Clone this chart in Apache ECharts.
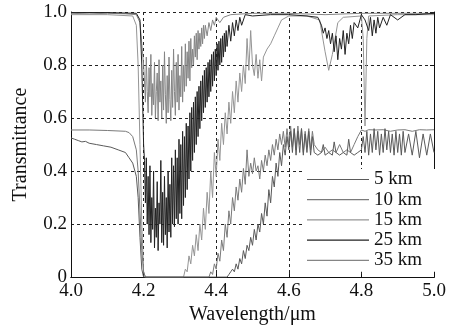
<!DOCTYPE html>
<html><head><meta charset="utf-8">
<script src="https://cdn.jsdelivr.net/npm/echarts@6/dist/echarts.min.js"></script>
<style>html,body{margin:0;padding:0;background:#fff}#c{width:453px;height:330px}</style>
</head><body><div id="c"></div>
<script>
const seriesNames = ['5 km','10 km','15 km','25 km','35 km'];
const xTicks = [4.0,4.2,4.4,4.6,4.8,5.0];
const yTicks = [0,0.2,0.4,0.6,0.8,1.0];

const km5 = [[4.0,0.525],[4.005,0.53],[4.01,0.52],[4.02,0.515],[4.03,0.51],[4.04,0.512],[4.05,0.505],[4.07,0.5],[4.09,0.495],[4.11,0.49],[4.13,0.48],[4.15,0.47],[4.16,0.45],[4.17,0.43],[4.18,0.38],[4.185,0.3],[4.19,0.15],[4.195,0.03],[4.2,0],[4.43,0],
[4.435,0.01],[4.44,0.02],[4.445,0.03],[4.45,0.02],[4.455,0.05],[4.46,0.03],[4.465,0.07],[4.47,0.05],[4.475,0.1],[4.48,0.07],[4.485,0.12],[4.49,0.1],[4.495,0.15],[4.50,0.12],[4.505,0.18],[4.51,0.14],[4.515,0.2],[4.52,0.17],[4.525,0.24],[4.53,0.2],[4.535,0.28],[4.54,0.23],[4.545,0.33],[4.55,0.28],[4.555,0.38],[4.56,0.34],[4.565,0.43],[4.57,0.38],[4.575,0.47],[4.58,0.42],[4.585,0.5],[4.59,0.46],[4.595,0.53],[4.60,0.48],[4.605,0.55],[4.61,0.47],[4.615,0.56],[4.62,0.46],[4.625,0.55],[4.63,0.47],[4.635,0.56],[4.64,0.46],[4.645,0.54],[4.65,0.47],[4.655,0.55],[4.66,0.46],[4.665,0.53],[4.67,0.47],[4.68,0.46],[4.69,0.47],[4.695,0.5],[4.70,0.46],[4.71,0.47],[4.72,0.46],[4.725,0.51],[4.73,0.47],[4.74,0.46],[4.75,0.47],[4.76,0.46],[4.765,0.52],[4.77,0.47],[4.78,0.46],[4.79,0.47],[4.80,0.48],[4.805,0.53],[4.81,0.47],[4.815,0.55],[4.82,0.46],[4.825,0.54],[4.83,0.47],[4.835,0.56],[4.84,0.48],[4.845,0.55],[4.85,0.46],[4.855,0.54],[4.86,0.47],[4.865,0.56],[4.87,0.48],[4.875,0.55],[4.88,0.47],[4.885,0.54],[4.89,0.46],[4.895,0.55],[4.90,0.47],[4.905,0.54],[4.91,0.46],[4.915,0.55],[4.92,0.47],[4.93,0.54],[4.94,0.46],[4.95,0.55],[4.96,0.45],[4.97,0.54],[4.98,0.46],[4.99,0.54],[5.0,0.47]];

const km10 = [[4.0,0.555],[4.05,0.555],[4.1,0.553],[4.15,0.55],[4.16,0.545],[4.17,0.53],[4.18,0.48],[4.185,0.4],[4.19,0.25],[4.195,0.1],[4.2,0.02],[4.205,0],[4.38,0],
[4.385,0.02],[4.39,0.01],[4.395,0.05],[4.40,0.03],[4.405,0.09],[4.41,0.06],[4.415,0.14],[4.42,0.1],[4.425,0.2],[4.43,0.15],[4.435,0.25],[4.44,0.2],[4.445,0.3],[4.45,0.25],[4.455,0.34],[4.46,0.29],[4.465,0.37],[4.47,0.32],[4.475,0.41],[4.48,0.35],[4.485,0.48],[4.49,0.38],[4.495,0.43],[4.50,0.39],[4.505,0.45],[4.51,0.4],[4.515,0.42],[4.52,0.37],[4.525,0.44],[4.53,0.4],[4.535,0.46],[4.54,0.42],[4.545,0.48],[4.55,0.44],[4.555,0.5],[4.56,0.46],[4.565,0.52],[4.57,0.48],[4.575,0.54],[4.58,0.5],[4.585,0.55],[4.59,0.49],[4.595,0.56],[4.60,0.5],[4.605,0.57],[4.61,0.49],[4.615,0.56],[4.62,0.48],[4.625,0.57],[4.63,0.5],[4.635,0.56],[4.64,0.47],[4.645,0.55],[4.65,0.49],[4.655,0.56],[4.66,0.48],[4.665,0.55],[4.67,0.5],[4.68,0.48],[4.69,0.47],[4.70,0.49],[4.71,0.47],[4.72,0.48],[4.73,0.47],[4.74,0.5],[4.75,0.47],[4.76,0.48],[4.77,0.47],[4.78,0.5],[4.79,0.53],[4.80,0.555],[4.81,0.55],[4.82,0.556],[4.84,0.555],[4.86,0.556],[4.88,0.55],[4.9,0.555],[4.92,0.556],[4.94,0.55],[4.96,0.556],[4.98,0.555],[5.0,0.556]];

const km15 = [[4.0,0.99],[4.1,0.99],[4.17,0.985],[4.18,0.95],[4.185,0.8],[4.19,0.5],[4.195,0.2],[4.2,0.02],[4.205,0],[4.31,0],
[4.315,0.03],[4.32,0.02],[4.325,0.08],[4.33,0.05],[4.335,0.12],[4.34,0.08],[4.345,0.16],[4.35,0.1],[4.355,0.2],[4.36,0.14],[4.365,0.26],[4.37,0.18],[4.375,0.32],[4.38,0.24],[4.385,0.4],[4.39,0.3],[4.395,0.47],[4.40,0.38],[4.405,0.52],[4.41,0.44],[4.415,0.58],[4.42,0.5],[4.425,0.62],[4.43,0.54],[4.435,0.66],[4.44,0.58],[4.445,0.7],[4.45,0.62],[4.455,0.74],[4.46,0.66],[4.465,0.77],[4.47,0.7],[4.475,0.8],[4.48,0.73],[4.485,0.9],[4.49,0.78],[4.495,0.93],[4.50,0.8],[4.505,0.76],[4.51,0.84],[4.515,0.75],[4.52,0.82],[4.525,0.74],[4.53,0.83],[4.54,0.86],[4.55,0.88],[4.56,0.91],[4.57,0.94],[4.58,0.97],[4.6,0.985],[4.65,0.985],[4.685,0.97],[4.70,0.85],[4.71,0.78],[4.72,0.84],[4.735,0.96],[4.75,0.98],[4.8,0.985],[4.805,0.9],[4.81,0.57],[4.815,0.9],[4.82,0.985],[4.9,0.99],[5.0,0.99]];

const km25 = [[4.0,0.998],[4.1,0.998],[4.18,0.995],[4.19,0.97],[4.195,0.8],[4.2,0.5],
[4.2025,0.44],[4.205,0.28],[4.2075,0.45],[4.21,0.2],[4.2125,0.38],[4.215,0.16],[4.2175,0.42],[4.22,0.13],[4.2225,0.3],[4.225,0.18],[4.2275,0.4],[4.23,0.11],[4.2325,0.26],[4.235,0.15],[4.2375,0.36],[4.24,0.1],[4.2425,0.28],[4.245,0.2],[4.2475,0.44],[4.25,0.13],[4.2525,0.32],[4.255,0.12],[4.2575,0.38],[4.26,0.16],[4.2625,0.3],[4.265,0.11],[4.2675,0.4],[4.27,0.17],[4.2725,0.35],[4.275,0.15],[4.2775,0.45],
[4.28,0.2],[4.2825,0.42],[4.285,0.19],[4.2875,0.48],[4.29,0.22],[4.2925,0.45],[4.295,0.2],[4.2975,0.52],[4.30,0.24],[4.3025,0.5],[4.305,0.22],[4.3075,0.55],[4.31,0.27],[4.3125,0.53],[4.315,0.3],[4.3175,0.58],[4.32,0.33],[4.3225,0.57],[4.325,0.37],[4.3275,0.62],[4.33,0.4],[4.3325,0.64],[4.335,0.44],[4.3375,0.66],[4.34,0.47],[4.3425,0.68],[4.345,0.5],[4.3475,0.7],[4.35,0.53],[4.3525,0.72],[4.355,0.56],[4.3575,0.74],[4.36,0.59],[4.3625,0.76],[4.365,0.62],[4.3675,0.78],[4.37,0.64],[4.3725,0.79],[4.375,0.66],[4.3775,0.81],[4.38,0.68],[4.3825,0.82],[4.385,0.7],[4.3875,0.84],[4.39,0.72],[4.3925,0.85],[4.395,0.74],[4.3975,0.86],[4.40,0.76],[4.4025,0.88],[4.405,0.78],[4.4075,0.89],[4.41,0.8],[4.4125,0.9],[4.415,0.81],[4.4175,0.91],[4.42,0.83],[4.4225,0.92],[4.425,0.85],[4.4275,0.93],[4.43,0.87],[4.435,0.95],[4.44,0.89],[4.445,0.96],[4.45,0.91],[4.455,0.97],[4.46,0.93],[4.465,0.98],[4.47,0.95],[4.48,0.99],
[4.5,0.985],[4.55,0.99],[4.6,0.99],[4.65,0.985],[4.68,0.98],[4.69,0.95],[4.695,0.92],[4.70,0.94],[4.705,0.9],[4.71,0.93],[4.715,0.88],[4.72,0.92],[4.725,0.85],[4.73,0.91],[4.735,0.82],[4.74,0.9],[4.745,0.86],[4.75,0.93],[4.755,0.84],[4.76,0.92],[4.765,0.88],[4.77,0.95],[4.775,0.9],[4.78,0.96],[4.79,0.94],[4.80,0.99],[4.81,0.97],[4.82,0.93],[4.825,0.98],[4.83,0.91],[4.835,0.97],[4.84,0.92],[4.845,0.98],[4.85,0.94],[4.86,0.98],[4.87,0.95],[4.88,0.99],[4.9,0.97],[4.92,0.99],[4.95,0.99],[5.0,0.995]];

const km35 = [[4.00,0.995],[4.05,0.993],[4.10,0.995],[4.15,0.993],[4.18,0.99],[4.19,0.96],[4.195,0.88],[4.20,0.8],
[4.2025,0.74],[4.205,0.66],[4.2075,0.83],[4.21,0.7],[4.2125,0.62],[4.215,0.79],[4.2175,0.68],[4.22,0.84],[4.2225,0.61],[4.225,0.73],[4.2275,0.65],[4.23,0.81],[4.2325,0.6],[4.235,0.7],[4.2375,0.77],[4.24,0.59],[4.2425,0.82],[4.245,0.66],[4.2475,0.74],[4.25,0.6],[4.2525,0.8],[4.255,0.63],[4.2575,0.85],[4.26,0.69],[4.2625,0.58],[4.265,0.76],[4.2675,0.62],[4.27,0.83],[4.2725,0.67],[4.275,0.59],[4.2775,0.78],[4.28,0.64],[4.2825,0.86],[4.285,0.7],[4.2875,0.61],[4.29,0.81],[4.2925,0.66],[4.295,0.84],[4.2975,0.63],[4.30,0.76],[4.3025,0.68],[4.305,0.87],[4.3075,0.66],[4.31,0.8],[4.3125,0.7],[4.315,0.88],[4.3175,0.72],[4.32,0.85],[4.3225,0.75],[4.325,0.89],[4.3275,0.74],[4.33,0.9],[4.3325,0.79],[4.335,0.86],[4.3375,0.8],[4.34,0.91],[4.3425,0.83],[4.345,0.92],[4.3475,0.82],[4.35,0.93],[4.3525,0.86],[4.355,0.92],[4.3575,0.87],[4.36,0.94],[4.3625,0.88],[4.365,0.95],[4.3675,0.9],[4.37,0.95],[4.375,0.91],[4.38,0.96],[4.385,0.93],[4.39,0.97],[4.395,0.95],[4.40,0.98],[4.41,0.96],[4.42,0.98],[4.44,0.99],[4.5,0.995],[4.6,0.995],[4.7,0.99],[4.8,0.995],[4.9,0.995],[5.0,0.995]];

const seriesData = [km5, km10, km15, km25, km35];
const seriesColors = ['#5a5a5a','#7a7a7a','#959595','#222222','#858585'];
const drawOrder = [4,2,1,0,3];

const FONT = 'Liberation Serif';
const chart = echarts.init(document.getElementById('c'), null, {renderer:'canvas'});
const series = drawOrder.map(i => ({
  name: seriesNames[i], type:'line', data: seriesData[i], showSymbol:false, symbol:'none',
  smooth:false, lineStyle:{color:seriesColors[i], width:1}, itemStyle:{color:seriesColors[i]}, z: 2,
  animation:false
}));
const dashed = {show:true, lineStyle:{color:'#222', type:[3,3], width:1}};
chart.setOption({
  animation:false,
  backgroundColor:'#fff',
  textStyle:{fontFamily:FONT},
  grid: {left:71, right:19, top:12, bottom:52},
  legend: {
    data: seriesNames.map(n=>({name:n, icon:'rect'})),
    orient:'vertical', left:303, top:169, itemWidth:62, itemHeight:1.2, itemGap:1.2,
    padding:[1,14,2,4], backgroundColor:'#fff',
    textStyle:{fontFamily:FONT, fontSize:19, color:'#111'}
  },
  xAxis: [{
    type:'value', min:xTicks[0], max:xTicks[xTicks.length-1], interval:0.2,
    name:'Wavelength/\u03bcm', nameLocation:'middle', nameGap:22,
    nameTextStyle:{fontFamily:FONT, fontSize:20, color:'#111'},
    axisLine:{show:true, lineStyle:{color:'#111', width:1}},
    axisTick:{show:true, inside:true, length:4, lineStyle:{color:'#111'}},
    axisLabel:{fontFamily:FONT, fontSize:19, color:'#111', margin:4, formatter:v=>v.toFixed(1)},
    splitLine: dashed
  },{
    type:'value', position:'top', min:4, max:5, interval:0.2,
    axisLine:{show:true, lineStyle:{color:'#111', width:1}},
    axisTick:{show:false}, axisLabel:{show:false}, splitLine:{show:false}
  }],
  yAxis: [{
    type:'value', min:yTicks[0], max:yTicks[yTicks.length-1], interval:0.2,
    name:'Transmittance', nameLocation:'middle', nameGap:40,
    nameTextStyle:{fontFamily:FONT, fontSize:20, color:'#111'},
    axisLine:{show:true, lineStyle:{color:'#111', width:1}},
    axisTick:{show:false},
    axisLabel:{fontFamily:FONT, fontSize:19, color:'#111', margin:4, formatter:v=>v===0?'0':v.toFixed(1)},
    splitLine: dashed
  },{
    type:'value', position:'right', min:0, max:1, interval:0.2,
    axisLine:{show:true, lineStyle:{color:'#111', width:1}},
    axisTick:{show:true, inside:true, length:4, lineStyle:{color:'#111'}},
    axisLabel:{show:false}, splitLine:{show:false}
  }],
  series: series
});
</script></body></html>
